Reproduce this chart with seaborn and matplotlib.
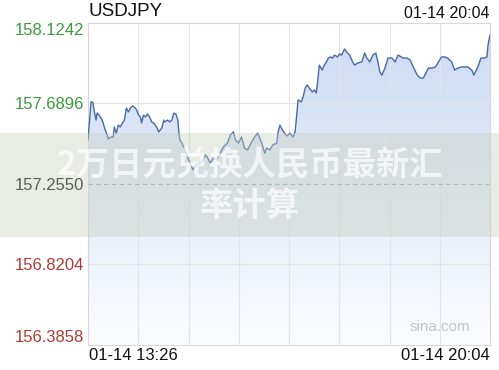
import numpy as np
import pandas as pd
import matplotlib
matplotlib.use("Agg")
import matplotlib.pyplot as plt
import seaborn as sns
from matplotlib.patches import Rectangle, Polygon
from matplotlib.colors import LinearSegmentedColormap

# ---------------- data ----------------
minutes = [0, 3, 4, 5, 6, 8, 9, 11, 14, 15, 17, 19, 20, 23, 25, 26, 28, 30, 32, 34,
           36, 38, 40, 42, 44, 47, 49, 50, 52, 53, 55, 57, 59, 61, 63, 65, 68, 70, 73, 75,
           76, 79, 81, 83, 85, 87, 89, 90, 91, 93, 95, 97, 99, 101, 104, 107, 111, 114, 116, 118,
           121, 124, 127, 131, 134, 138, 141, 144, 146, 149, 152, 155, 158, 162, 165, 168, 172, 175, 177, 180,
           183, 187, 188, 190, 193, 197, 200, 203, 205, 206, 208, 211, 213, 215, 217, 219, 222, 224, 226, 227,
           229, 232, 233, 236, 238, 240, 242, 244, 247, 249, 251, 254, 256, 259, 262, 264, 267, 271, 274, 276,
           279, 282, 285, 287, 289, 291, 294, 297, 301, 304, 307, 310, 312, 316, 319, 322, 326, 329, 332, 335,
           337, 341, 344, 347, 350, 353, 356, 360, 363, 366, 370, 373, 376, 380, 382, 386, 389, 392, 395, 396,
           398]
prices = [157.493, 157.698, 157.698, 157.692, 157.654, 157.600, 157.638, 157.627, 157.600, 157.584,
          157.547, 157.520, 157.498, 157.509, 157.509, 157.563, 157.530, 157.573, 157.563, 157.584,
          157.600, 157.665, 157.644, 157.665, 157.676, 157.665, 157.644, 157.627, 157.617, 157.584,
          157.627, 157.617, 157.633, 157.617, 157.590, 157.584, 157.563, 157.536, 157.557, 157.600,
          157.590, 157.600, 157.590, 157.600, 157.638, 157.633, 157.600, 157.530, 157.493, 157.476,
          157.449, 157.428, 157.395, 157.368, 157.331, 157.358, 157.368, 157.385, 157.412, 157.401,
          157.368, 157.395, 157.385, 157.422, 157.455, 157.476, 157.520, 157.536, 157.493, 157.476,
          157.509, 157.449, 157.439, 157.482, 157.509, 157.530, 157.476, 157.422, 157.449, 157.439,
          157.466, 157.476, 157.530, 157.573, 157.541, 157.514, 157.530, 157.509, 157.536, 157.590,
          157.709, 157.698, 157.725, 157.773, 157.790, 157.773, 157.752, 157.763, 157.746, 157.790,
          157.897, 157.870, 157.887, 157.914, 157.935, 157.941, 157.935, 157.951, 157.941, 157.957,
          157.951, 157.984, 157.968, 157.951, 157.914, 157.897, 157.908, 157.914, 157.962, 157.935,
          157.914, 157.951, 157.962, 157.914, 157.860, 157.843, 157.881, 157.935, 157.935, 157.914,
          157.951, 157.941, 157.935, 157.935, 157.924, 157.887, 157.843, 157.827, 157.827, 157.860,
          157.881, 157.881, 157.887, 157.914, 157.941, 157.941, 157.935, 157.914, 157.870, 157.881,
          157.887, 157.887, 157.887, 157.870, 157.843, 157.887, 157.935, 157.935, 157.941, 158.005,
          158.059]
y_ticks = [158.1242, 157.6896, 157.2550, 156.8204, 156.3858]
y_tick_labels = ["158.1242", "157.6896", "157.2550", "156.8204", "156.3858"]
prev_close = 157.2550
x_labels = ["01-14 13:26", "01-14 20:04"]
top_time = "01-14 20:04"
title = "USDJPY"
watermark_lines = ["2万日元兑换人民币最新汇", "率计算"]
source = "sina.com"

# ---------------- style ----------------
sns.set_theme(style="white")
plt.rcParams['font.family'] = ['Liberation Sans', 'DejaVu Sans']

W, H = 499, 370
fig = plt.figure(figsize=(W / 100, H / 100), dpi=100)
fig.patch.set_facecolor("white")
ax = fig.add_axes([88 / W, 1 - 345 / H, 402 / W, 322 / H])

df = pd.DataFrame({"t": minutes, "p": prices})
x0, x1 = 0, 398
ymin, ymax = min(y_ticks), max(y_ticks)

# gradient area fill under the line
grad = np.linspace(0, 1, 256).reshape(-1, 1)
cmap = LinearSegmentedColormap.from_list("g", ["#fbfcff", "#cadbf4"])
im = ax.imshow(grad, extent=[x0, x1, ymin, ymax], origin="lower",
               aspect="auto", cmap=cmap, zorder=1, interpolation="bilinear")
verts = [(minutes[0], ymin)] + list(zip(minutes, prices)) + [(minutes[-1], ymin)]
poly = Polygon(verts, closed=True, facecolor="none", edgecolor="none")
ax.add_patch(poly)
im.set_clip_path(poly)

sns.lineplot(data=df, x="t", y="p", ax=ax, color="#4a6aa5", linewidth=1.0, zorder=4)

ax.set_xlim(x0, x1)
ax.set_ylim(ymin, ymax)

# grid
ax.set_xticks(np.linspace(x0, x1, 9))
ax.set_xticklabels([])
for xv in np.linspace(x0, x1, 9)[1:-1]:
    ax.axvline(xv, color="#e4e4e4", lw=0.8, zorder=2)
for yv in y_ticks[1:-1]:
    if yv == prev_close:
        ax.axhline(yv, color="#a8a8a8", lw=0.8, ls=(0, (4, 3)), zorder=5)
    else:
        ax.axhline(yv, color="#e4e4e4", lw=0.8, zorder=2)

ax.set_yticks(y_ticks)
ax.set_yticklabels(y_tick_labels, fontsize=12)
ax.tick_params(axis="both", length=0, pad=3)
ax.set_xlabel("")
ax.set_ylabel("")
label_colors = ["#3d9a3d", "#3d9a3d", "#111111", "#b03a30", "#b03a30"]
for lbl, c in zip(ax.get_yticklabels(), label_colors):
    lbl.set_color(c)
tl = ax.get_yticklabels()
tl[0].set_va("top")
tl[-1].set_va("bottom")

for s in ax.spines.values():
    s.set_color("#d8d8d8")
    s.set_linewidth(0.8)

# texts
fig.text(88 / W, 1 - 12 / H, title, fontsize=13.5, color="#111111", ha="left", va="center")
fig.text(490 / W, 1 - 13 / H, top_time, fontsize=11.5, color="#111111", ha="right", va="center")
fig.text(89 / W, 1 - 356 / H, x_labels[0], fontsize=12, color="#111111", ha="left", va="center")
fig.text(490 / W, 1 - 356 / H, x_labels[1], fontsize=12, color="#111111", ha="right", va="center")
ax.text(0.95, 0.035, source, transform=ax.transAxes, fontsize=11,
        color="#c4c4c4", ha="right", va="bottom", zorder=6)

# watermark band
band = Rectangle((0, 1 - 237 / H), 1, 104 / H, transform=fig.transFigure,
                 facecolor=(200 / 255, 205 / 255, 190 / 255), alpha=0.4, edgecolor="none", zorder=10)
fig.add_artist(band)
cjk = ["Noto Sans CJK SC", "DejaVu Sans"]
fig.text(250 / W, 1 - 166 / H, watermark_lines[0], fontsize=24, fontweight="bold", color="white",
         alpha=0.7, ha="center", va="center", family=cjk, zorder=11)
fig.text(250 / W, 1 - 206 / H, watermark_lines[1], fontsize=24, fontweight="bold", color="white",
         alpha=0.7, ha="center", va="center", family=cjk, zorder=11)

fig.savefig("out.png", dpi=100)
